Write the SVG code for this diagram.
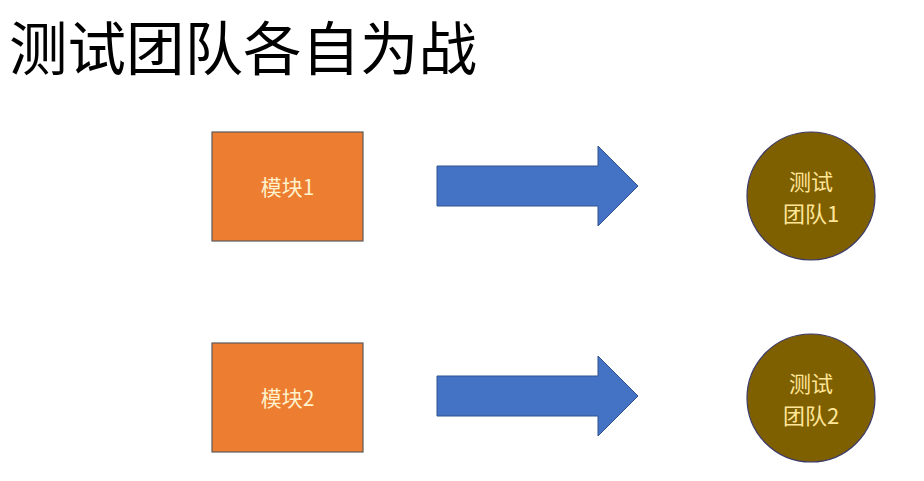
<svg xmlns="http://www.w3.org/2000/svg" width="924" height="481" viewBox="0 0 924 481">
<style>
.t{font-family:"Noto Sans CJK SC","Noto Sans",sans-serif}
.box{fill:#ED7D31;stroke:#5a5a5a;stroke-width:1.2}
.arr{fill:#4472C4;stroke:#2F528F;stroke-width:1}
.cir{fill:#7F6000;stroke:#3c3a6a;stroke-width:1.2}
.bt{fill:#FFF2CC;font-size:21px;text-anchor:middle}
.ct{fill:#FFE699;font-size:22px;text-anchor:middle}
</style>
<rect width="924" height="481" fill="#ffffff"/>
<text class="t" x="9" y="70" font-size="58.5" fill="#000000">测试团队各自为战</text>
<g id="module1"><rect class="box" x="212" y="132" width="151" height="109"/><text class="t bt" x="287.5" y="195">模块1</text></g>
<g id="module2"><rect class="box" x="212" y="343" width="151" height="109"/><text class="t bt" x="287.5" y="406">模块2</text></g>
<g id="team1"><circle class="cir" cx="811" cy="196" r="64"/><text class="t ct" x="811" y="190">测试</text><text class="t ct" x="811" y="222">团队1</text></g>
<g id="team2"><circle class="cir" cx="811" cy="398" r="64"/><text class="t ct" x="811" y="392">测试</text><text class="t ct" x="811" y="424">团队2</text></g>
<g id="connectors">
<path class="arr" d="M437,166 H598 V146 L638,186 L598,226 V206 H437 Z"/>
<path class="arr" d="M437,376 H598 V356 L638,396 L598,436 V416 H437 Z"/>
</g>
</svg>
